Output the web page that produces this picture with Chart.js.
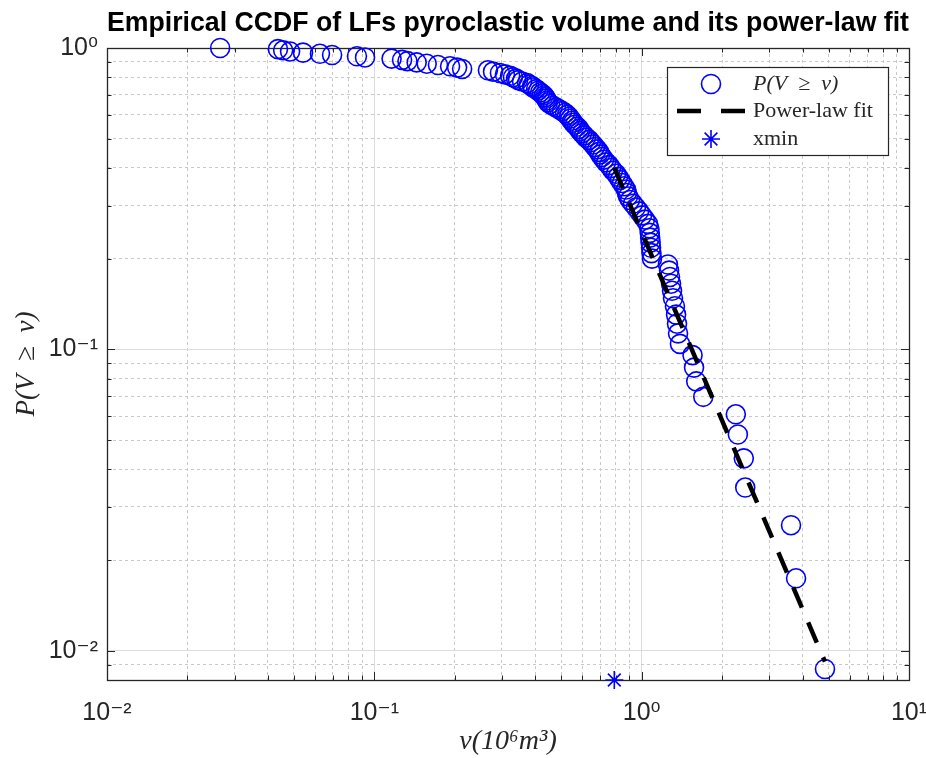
<!DOCTYPE html>
<html><head><meta charset="utf-8">
<script src="https://cdn.jsdelivr.net/npm/chart.js@4/dist/chart.umd.min.js"></script>
<style>html,body{margin:0;padding:0;background:#fff;overflow:hidden}#wrap{width:926px;height:758px}</style>
</head><body><div id="wrap"><canvas id="c" width="926" height="758"></canvas></div>
<script>
// Empirical CCDF: volume (10^6 m^3), sorted ascending
const volumes = [
  0.0265, 0.0436, 0.0456, 0.0484, 0.0541, 0.0626, 0.0695, 0.0861, 0.0923, 0.116,
  0.127, 0.133, 0.144, 0.157, 0.173, 0.192, 0.204, 0.213, 0.266, 0.278,
  0.295, 0.308, 0.322, 0.330, 0.339, 0.345, 0.357, 0.373, 0.379, 0.389,
  0.392, 0.403, 0.410, 0.417, 0.424, 0.431, 0.435, 0.439, 0.443, 0.446,
  0.454, 0.466, 0.478, 0.491, 0.504, 0.517, 0.526, 0.535, 0.540, 0.549,
  0.554, 0.563, 0.573, 0.583, 0.588, 0.598, 0.609, 0.619, 0.635, 0.646,
  0.658, 0.669, 0.681, 0.693, 0.699, 0.711, 0.723, 0.736, 0.755, 0.768,
  0.781, 0.802, 0.816, 0.830, 0.844, 0.859, 0.874, 0.881, 0.889, 0.905,
  0.928, 0.952, 0.978, 1.003, 1.029, 1.056, 1.068, 1.072, 1.076, 1.080,
  1.084, 1.088, 1.093, 1.254, 1.266, 1.276, 1.288, 1.299, 1.310, 1.332,
  1.345, 1.356, 1.368, 1.391, 1.55, 1.57, 1.60, 1.70, 2.25, 2.29,
  2.41, 2.44, 3.62, 3.78, 4.85
];
// P(V >= v)
const ccdf = [
  1.0000, 0.9913, 0.9826, 0.9739, 0.9652, 0.9565, 0.9478, 0.9391, 0.9304, 0.9217,
  0.9130, 0.9043, 0.8957, 0.8870, 0.8783, 0.8696, 0.8609, 0.8522, 0.8435, 0.8348,
  0.8261, 0.8174, 0.8087, 0.8000, 0.7913, 0.7826, 0.7739, 0.7652, 0.7565, 0.7478,
  0.7391, 0.7304, 0.7217, 0.7130, 0.7043, 0.6957, 0.6870, 0.6783, 0.6696, 0.6609,
  0.6522, 0.6435, 0.6348, 0.6261, 0.6174, 0.6087, 0.6000, 0.5913, 0.5826, 0.5739,
  0.5652, 0.5565, 0.5478, 0.5391, 0.5304, 0.5217, 0.5130, 0.5043, 0.4957, 0.4870,
  0.4783, 0.4696, 0.4609, 0.4522, 0.4435, 0.4348, 0.4261, 0.4174, 0.4087, 0.4000,
  0.3913, 0.3826, 0.3739, 0.3652, 0.3565, 0.3478, 0.3391, 0.3304, 0.3217, 0.3130,
  0.3043, 0.2957, 0.2870, 0.2783, 0.2696, 0.2609, 0.2522, 0.2435, 0.2348, 0.2261,
  0.2174, 0.2087, 0.2000, 0.1913, 0.1826, 0.1739, 0.1652, 0.1565, 0.1478, 0.1391,
  0.1304, 0.1217, 0.1130, 0.1043, 0.0957, 0.0870, 0.0783, 0.0696, 0.0609, 0.0522,
  0.0435, 0.0348, 0.0261, 0.0174, 0.0087
];
const fitX = [0.79, 4.85];
const fitY = [0.40, 0.0092];
const xminX = [0.79];
const xminY = [0.008];
const xTickValues = [0.01,0.02,0.03,0.04,0.05,0.06,0.07,0.08,0.09,0.1,0.2,0.3,0.4,0.5,0.6,0.7,0.8,0.9,1,2,3,4,5,6,7,8,9,10];
const yTickValues = [0.008,0.009,0.01,0.02,0.03,0.04,0.05,0.06,0.07,0.08,0.09,0.1,0.2,0.3,0.4,0.5,0.6,0.7,0.8,0.9,1];
const xTickLabels = {'0.01':'10\u207B\u00B2','0.1':'10\u207B\u00B9','1':'10\u2070','10':'10\u00B9'};
const yTickLabels = {'0.01':'10\u207B\u00B2','0.1':'10\u207B\u00B9','1':'10\u2070'};
const seriesLabels = ['P(V \u2265 v)', 'Power-law fit', 'xmin'];

const isMajor = v => Math.abs(Math.log10(v) - Math.round(Math.log10(v))) < 1e-6;
const AX = '#262626';
const tickFont = {family:'"Liberation Sans","DejaVu Sans",sans-serif', size:25};

const frame = {
  id:'frame',
  beforeDatasetsDraw(chart){
    const {ctx, chartArea:a, scales:{x, y}} = chart;
    ctx.save();
    ctx.strokeStyle = AX; ctx.lineWidth = 1;
    ctx.beginPath();
    x.ticks.forEach(t => {
      const px = Math.round(x.getPixelForValue(t.value)) + 0.5;
      const L = isMajor(t.value) ? 8 : 4.5;
      ctx.moveTo(px, a.bottom); ctx.lineTo(px, a.bottom - L);
      ctx.moveTo(px, a.top); ctx.lineTo(px, a.top + L);
    });
    y.ticks.forEach(t => {
      const py = Math.round(y.getPixelForValue(t.value)) + 0.5;
      const L = isMajor(t.value) ? 8 : 4.5;
      ctx.moveTo(a.left, py); ctx.lineTo(a.left + L, py);
      ctx.moveTo(a.right, py); ctx.lineTo(a.right - L, py);
    });
    ctx.stroke();
    ctx.lineWidth = 1.3;
    ctx.strokeRect(Math.round(a.left)+0.5, Math.round(a.top)+0.5, Math.round(a.right-a.left), Math.round(a.bottom-a.top));
    ctx.restore();
  },
  afterDraw(chart){
    const {ctx, chartArea:a} = chart;
    const ds = chart.data.datasets;
    const bx = a.right - 21, by = a.top + 19, bw = 221, bh = 88;
    const L = bx - bw;
    ctx.save();
    ctx.fillStyle = '#fff';
    ctx.fillRect(L, by, bw, bh);
    ctx.strokeStyle = AX; ctx.lineWidth = 1.2;
    ctx.strokeRect(L + 0.5, by + 0.5, bw, bh);
    const mx = L + 44, tx = L + 86;
    const rows = [by + 17, by + 44, by + 72];
    ctx.strokeStyle = ds[2].borderColor; ctx.lineWidth = 1.6;
    ctx.beginPath(); ctx.arc(mx, rows[0], 9.5, 0, Math.PI*2); ctx.stroke();
    ctx.strokeStyle = '#000'; ctx.lineWidth = 4.5; ctx.setLineDash([24, 20]);
    ctx.beginPath(); ctx.moveTo(L + 10, rows[1]); ctx.lineTo(L + 78, rows[1]); ctx.stroke();
    ctx.setLineDash([]);
    ctx.strokeStyle = ds[0].borderColor; ctx.lineWidth = 1.6;
    Chart.helpers.drawPoint(ctx, {pointStyle:'star', radius:9, borderWidth:1.6, rotation:0}, mx, rows[2]);
    ctx.fillStyle = AX; ctx.textBaseline = 'middle'; ctx.textAlign = 'left';
    ctx.font = 'italic 22px "Liberation Serif", serif';
    ctx.fillText('P(V\u2002\u2265\u2002v)', tx, rows[0]);
    ctx.font = '22px "Liberation Serif", serif';
    ctx.fillText(seriesLabels[1], tx, rows[1]);
    ctx.fillText(seriesLabels[2], tx, rows[2]);
    ctx.restore();
  }
};

const gridOpts = {
  drawTicks:false,
  color: c => (c.tick && isMajor(c.tick.value)) ? '#dcdcdc' : '#c9c9c9',
  lineWidth: 1
};
const borderOpts = {
  display:false,
  dash: c => (c.tick && !isMajor(c.tick.value)) ? [3, 3] : []
};

new Chart(document.getElementById('c'), {
  type:'scatter',
  data:{
    datasets:[
      {label:seriesLabels[2], data:xminX.map((x,i)=>({x, y:xminY[i]})), pointStyle:'star', pointRadius:9, pointBorderWidth:1.6, borderColor:'#0000ff', backgroundColor:'#0000ff', clip:false, order:0},
      {label:seriesLabels[1], data:fitX.map((x,i)=>({x, y:fitY[i]})), showLine:true, borderColor:'#000', borderWidth:4.5, borderDash:[22,16], pointRadius:0, fill:false, clip:false, order:1},
      {label:seriesLabels[0], data:volumes.map((v,i)=>({x:v, y:ccdf[i]})), pointStyle:'circle', pointRadius:9.5, pointBorderWidth:1.6, borderColor:'#0000ff', backgroundColor:'rgba(0,0,0,0)', clip:false, order:2}
    ]
  },
  options:{
    responsive:false, animation:false, devicePixelRatio:1, events:[],
    layout:{padding:{left:0, right:17, top:0, bottom:0}},
    plugins:{
      legend:{display:false}, tooltip:{enabled:false},
      title:{display:true, fullSize:false, text:'Empirical CCDF of LFs pyroclastic volume and its power-law fit',
        color:'#000', font:{family:'"Liberation Sans",Arial,sans-serif', size:27, weight:'bold'}, padding:{top:7, bottom:8.6}}
    },
    scales:{
      x:{
        type:'logarithmic', min:0.01, max:10,
        afterBuildTicks: s => { s.ticks = xTickValues.map(v => ({value:v})); },
        afterFit: s => { s.height = 78; s.paddingLeft = 0; s.paddingRight = 0; },
        ticks:{autoSkip:false, maxRotation:0, minRotation:0, padding:18, color:AX, font:tickFont,
          callback: v => xTickLabels[String(+v.toPrecision(6))] || ''},
        grid:gridOpts, border:borderOpts,
        title:{display:true, text:'v(10\u2076m\u00B3)', color:AX, padding:{top:0, bottom:0},
          font:{family:'"Liberation Serif",serif', size:28, style:'italic'}}
      },
      y:{
        type:'logarithmic', min:0.008, max:1,
        afterBuildTicks: s => { s.ticks = yTickValues.map(v => ({value:v})); },
        afterFit: s => { s.width = 107; s.paddingTop = 0; s.paddingBottom = 0; },
        ticks:{autoSkip:false, padding:9, color:AX, font:tickFont,
          callback: v => yTickLabels[String(+v.toPrecision(6))] || ''},
        grid:gridOpts, border:borderOpts,
        title:{display:true, text:'P(V\u2002\u2265\u2002v)', color:AX, padding:{top:11, bottom:0},
          font:{family:'"Liberation Serif",serif', size:27, style:'italic'}}
      }
    }
  },
  plugins:[frame]
});
</script>
</body></html>
